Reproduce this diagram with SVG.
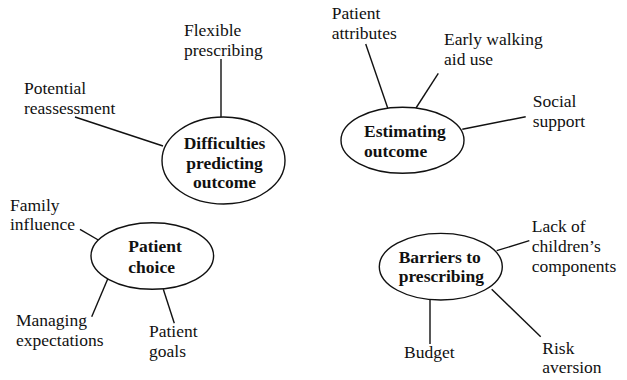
<svg xmlns="http://www.w3.org/2000/svg" width="627" height="380" viewBox="0 0 627 380" font-family="Liberation Serif, Times New Roman, serif" font-size="17.5">
<style>
text{fill:#111}
.b{font-weight:bold}
.c{text-anchor:middle}
ellipse{fill:#fff;stroke:#111;stroke-width:1.4}
line{stroke:#111;stroke-width:1.4}
</style>
<rect width="627" height="380" fill="#fff"/>
<g id="connectors">
<line x1="221" y1="59" x2="221" y2="117"/>
<line x1="75" y1="117" x2="163" y2="146"/>
<line x1="365.7" y1="44" x2="387.7" y2="108"/>
<line x1="438.3" y1="73.3" x2="416" y2="108"/>
<line x1="525.7" y1="116.7" x2="462.3" y2="129.3"/>
<line x1="80" y1="229.3" x2="98.3" y2="240"/>
<line x1="107.7" y1="279" x2="91.7" y2="316.7"/>
<line x1="163.3" y1="289.3" x2="174.3" y2="323.3"/>
<line x1="529.3" y1="240.7" x2="496.7" y2="250.7"/>
<line x1="430" y1="300" x2="430" y2="344"/>
<line x1="491.7" y1="289.3" x2="540.7" y2="336.7"/>
</g>
<g id="difficulties">
<ellipse cx="223.5" cy="160.5" rx="61.5" ry="43.5"/>
<text class="b c" x="224.5" y="149">Difficulties</text>
<text class="b c" x="224.5" y="168.5">predicting</text>
<text class="b c" x="224.5" y="188">outcome</text>
</g>
<g id="flexible">
<text x="184" y="36">Flexible</text>
<text x="184" y="56">prescribing</text>
</g>
<g id="reassessment">
<text x="24" y="94">Potential</text>
<text x="24" y="113.5">reassessment</text>
</g>
<g id="estimating">
<ellipse cx="402.5" cy="140.3" rx="61.5" ry="33"/>
<text class="b" x="364" y="136.7">Estimating</text>
<text class="b" x="364" y="156.5">outcome</text>
</g>
<g id="attributes">
<text x="331.7" y="18.5">Patient</text>
<text x="331.7" y="39">attributes</text>
</g>
<g id="walking">
<text x="444" y="45">Early walking</text>
<text x="444" y="64.5">aid use</text>
</g>
<g id="social">
<text x="532.7" y="107.3">Social</text>
<text x="532.7" y="127">support</text>
</g>
<g id="choice">
<ellipse cx="152.3" cy="256" rx="61.3" ry="33.3"/>
<text class="b" x="128.3" y="252.3">Patient</text>
<text class="b" x="128.3" y="272.5">choice</text>
</g>
<g id="family">
<text x="10" y="210.7">Family</text>
<text x="10" y="230">influence</text>
</g>
<g id="expectations">
<text x="16" y="326.3">Managing</text>
<text x="16" y="345.7">expectations</text>
</g>
<g id="goals">
<text x="149" y="337.3">Patient</text>
<text x="149" y="356.7">goals</text>
</g>
<g id="barriers">
<ellipse cx="440.8" cy="266.7" rx="61.5" ry="33.3"/>
<text class="b" x="398.7" y="263.3">Barriers to</text>
<text class="b" x="398.7" y="281.7">prescribing</text>
</g>
<g id="components">
<text x="531.7" y="231.7">Lack of</text>
<text x="531.7" y="251.7">children’s</text>
<text x="531.7" y="271.7">components</text>
</g>
<g id="budget">
<text x="404" y="358.3">Budget</text>
</g>
<g id="risk">
<text x="542.3" y="354">Risk</text>
<text x="542.3" y="373.3">aversion</text>
</g>
</svg>
